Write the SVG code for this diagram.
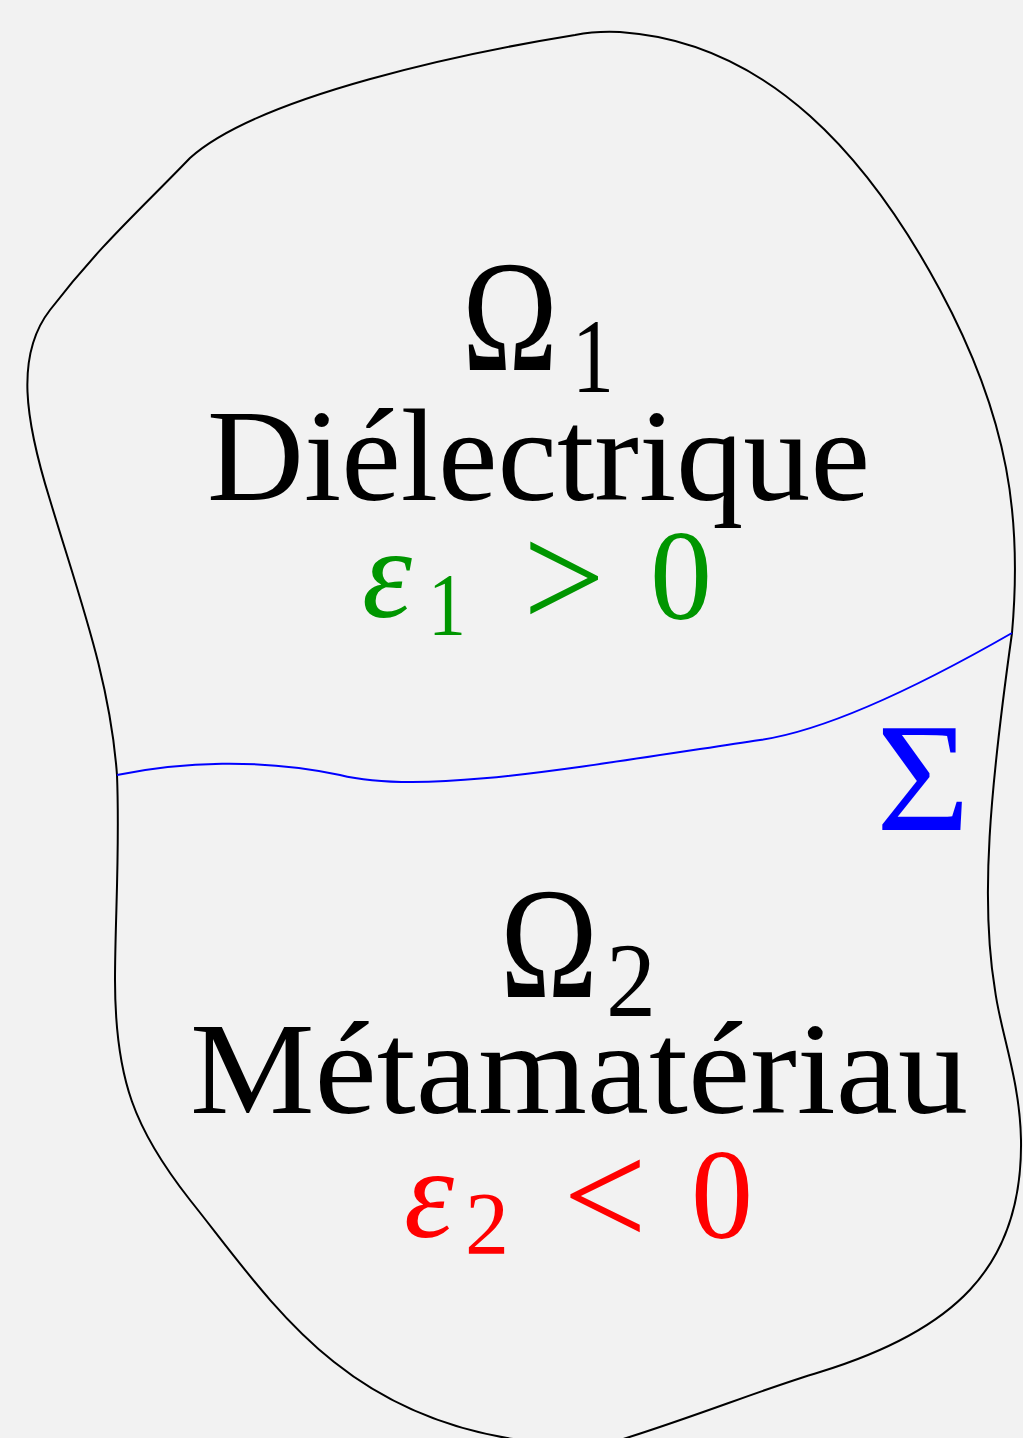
<svg xmlns="http://www.w3.org/2000/svg" width="1023" height="1438" viewBox="0 0 1023 1438">
<style>
.t{font-family:"Liberation Serif","DejaVu Serif",serif;}
.it{font-style:italic;}
.blk{fill:#000;}
.grn{fill:#009600;}
.red{fill:#ff0000;}
.blu{fill:#0000ff;}
.line{fill:none;stroke-width:2;}
</style>
<rect width="1023" height="1438" fill="#f2f2f2"/>
<g id="domain">
<path class="line" stroke="#000" d="M 620,1440 C 700,1415 760,1390 820,1372 C 950,1332 1023,1270 1021,1140 C 1020,1080 1000,1030 995,990 C 980,900 990,790 1012,633 C 1022,520 1010,420 940,290 C 870,160 770,42 620,32 C 600,31 590,32 575,35 C 470,52 260,95 190,158 C 140,210 100,245 50,310 C 15,355 25,420 50,500 C 80,600 110,680 117,775 C 120,850 115,920 115,980 C 115,1080 135,1130 190,1200 C 270,1300 340,1415 520,1440"/>
</g>
<g id="connectors">
<path id="sigma-interface" class="line" stroke="#0000ff" d="M 117,775 C 180,762 260,758 340,775 C 420,795 560,770 760,740 C 830,730 930,680 1012,633"/>
</g>
<g id="omega1">
<text class="t blk" x="462" y="370" font-size="158" textLength="96" lengthAdjust="spacingAndGlyphs">Ω</text>
<text class="t blk" x="572" y="392" font-size="106" textLength="42" lengthAdjust="spacingAndGlyphs">1</text>
<text class="t blk" x="207" y="500" font-size="132" textLength="663" lengthAdjust="spacingAndGlyphs">Diélectrique</text>
<text class="t grn it" x="362" y="617" font-size="130" textLength="50" lengthAdjust="spacingAndGlyphs">ε</text>
<text class="t grn" x="428" y="634" font-size="88" textLength="38" lengthAdjust="spacingAndGlyphs">1</text>
<text class="t grn" x="523" y="628" font-size="150" textLength="82" lengthAdjust="spacingAndGlyphs">&gt;</text>
<text class="t grn" x="650" y="619" font-size="130" textLength="62" lengthAdjust="spacingAndGlyphs">0</text>
</g>
<g id="sigma">
<text class="t blu" x="876" y="830" font-size="154" textLength="94" lengthAdjust="spacingAndGlyphs">Σ</text>
</g>
<g id="omega2">
<text class="t blk" x="500" y="997" font-size="158" textLength="98" lengthAdjust="spacingAndGlyphs">Ω</text>
<text class="t blk" x="606" y="1016" font-size="106" textLength="50" lengthAdjust="spacingAndGlyphs">2</text>
<text class="t blk" x="190" y="1113" font-size="132" textLength="778" lengthAdjust="spacingAndGlyphs">Métamatériau</text>
<text class="t red it" x="404" y="1237" font-size="130" textLength="50" lengthAdjust="spacingAndGlyphs">ε</text>
<text class="t red" x="465" y="1253" font-size="88" textLength="44" lengthAdjust="spacingAndGlyphs">2</text>
<text class="t red" x="563" y="1246" font-size="150" textLength="84" lengthAdjust="spacingAndGlyphs">&lt;</text>
<text class="t red" x="691" y="1238" font-size="130" textLength="62" lengthAdjust="spacingAndGlyphs">0</text>
</g>
</svg>
